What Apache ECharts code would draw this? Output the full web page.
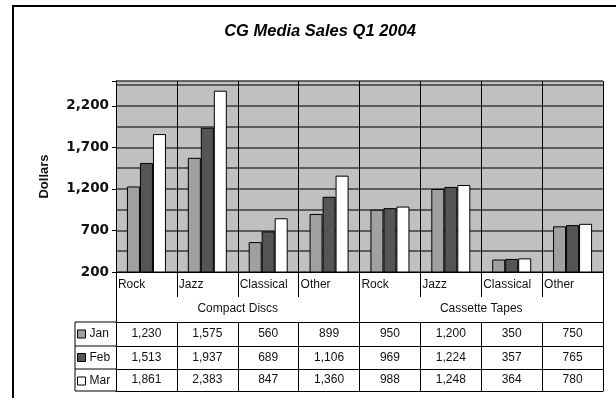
<!DOCTYPE html>
<html>
<head>
<meta charset="utf-8">
<script src="https://cdn.jsdelivr.net/npm/echarts@6/dist/echarts.min.js"></script>
<style>
html,body{margin:0;padding:0;background:#fff;}
#chart{width:616px;height:398px;}
</style>
</head>
<body>
<div id="chart"></div>
<script>
const titleText = 'CG Media Sales Q1 2004';
const categories = ['Rock', 'Jazz', 'Classical', 'Other', 'Rock', 'Jazz', 'Classical', 'Other'];
const groups = ['Compact Discs', 'Cassette Tapes'];
const seriesNames = ['Jan', 'Feb', 'Mar'];
const jan = [1230, 1575, 560, 899, 950, 1200, 350, 750];
const feb = [1513, 1937, 689, 1106, 969, 1224, 357, 765];
const mar = [1861, 2383, 847, 1360, 988, 1248, 364, 780];
const yMin = 200;
const yMax = 2500;
const yLabelStep = 500;
const yGridStep = 250;
const yName = 'Dollars';

const seriesValues = [jan, feb, mar];
const seriesColors = ['#a0a0a0', '#555555', '#ffffff'];
const fmt = v => Number(v).toLocaleString('en-US');
const FONT = 'Arial, "Liberation Sans", sans-serif';

const chart = echarts.init(document.getElementById('chart'), null, {renderer: 'canvas'});

function rowAxis(values, offset, margin, tickLen) {
  return {
    type: 'category', gridIndex: 0, position: 'bottom', offset: offset,
    data: values.map(fmt),
    axisLine: {show: true, lineStyle: {color: '#000', width: 1}},
    axisTick: {show: true, interval: 0, length: tickLen, lineStyle: {color: '#000', width: 1}},
    axisLabel: {show: true, interval: 0, margin: margin, fontFamily: FONT, fontSize: 12, lineHeight: 14, color: '#111'},
    splitLine: {show: false}
  };
}

const option = {
  animation: false,
  backgroundColor: '#ffffff',
  title: {
    text: titleText, left: 320, top: 23, textAlign: 'center', padding: 0,
    textStyle: {fontFamily: FONT, fontSize: 16.5, fontWeight: 'bold', fontStyle: 'italic', color: '#000'}
  },
  legend: {
    orient: 'vertical', left: 77, top: 327, itemWidth: 8, itemHeight: 8, itemGap: 9.5,
    icon: 'rect', padding: 0,
    itemStyle: {borderColor: '#000', borderWidth: 1},
    textStyle: {fontFamily: FONT, fontSize: 12, lineHeight: 14, color: '#111', padding: [0, 0, 0, -1]},
    data: seriesNames
  },
  grid: {left: 116, right: 13, top: 81, bottom: 126, show: true, backgroundColor: '#c0c0c0', borderWidth: 0},
  xAxis: [
    {
      type: 'category', data: categories, position: 'bottom',
      axisLine: {show: true, lineStyle: {color: '#000', width: 1}},
      axisTick: {show: true, interval: 0, length: 25, lineStyle: {color: '#000', width: 1}},
      axisLabel: {
        show: true, interval: 0, margin: 6,
        formatter: v => '{a|' + v + '}',
        rich: {a: {width: 57, align: 'left', fontFamily: FONT, fontSize: 12, lineHeight: 14, color: '#111'}}
      },
      splitLine: {show: true, interval: 0, lineStyle: {color: '#000', width: 1}}
    },
    {
      type: 'category', data: groups, position: 'bottom', offset: 0,
      axisLine: {show: false},
      axisTick: {show: true, interval: 0, length: 50, lineStyle: {color: '#000', width: 1}},
      axisLabel: {show: true, interval: 0, margin: 29.5, fontFamily: FONT, fontSize: 12, lineHeight: 14, color: '#111'},
      splitLine: {show: false}
    },
    rowAxis(jan, 50, 5, 24),
    rowAxis(feb, 74, 4.5, 23),
    rowAxis(mar, 97, 4, 22),
    {
      type: 'category', data: categories, position: 'bottom', offset: 119,
      axisLine: {show: true, lineStyle: {color: '#000', width: 1}},
      axisTick: {show: false}, axisLabel: {show: false}, splitLine: {show: false}
    }
  ],
  yAxis: [
    {
      type: 'value', position: 'left', min: yMin, max: yMax, interval: yGridStep,
      axisLine: {show: true, lineStyle: {color: '#000', width: 1}},
      axisTick: {show: false}, axisLabel: {show: false},
      splitLine: {show: true, lineStyle: {color: '#3a3a3a', width: 1.5}}
    },
    {
      type: 'value', position: 'left', min: yMin, max: yMax, interval: yLabelStep,
      name: yName, nameLocation: 'middle', nameGap: 65, nameRotate: 90,
      nameTextStyle: {fontFamily: FONT, fontSize: 13, fontWeight: 'bold', color: '#111'},
      axisLine: {show: false},
      axisTick: {show: true, length: 4, lineStyle: {color: '#000', width: 1}},
      axisLabel: {
        show: true, margin: 7, fontFamily: '"DejaVu Sans", sans-serif', fontSize: 13.5, fontWeight: 'bold', color: '#111',
        formatter: v => ((v - yMin) % yLabelStep === 0 ? fmt(v) : '')
      },
      splitLine: {show: false}
    }
  ],
  series: seriesNames.map((name, i) => ({
    name: name, type: 'bar', xAxisIndex: 0, yAxisIndex: 0,
    data: seriesValues[i], barWidth: 13, barGap: '0%',
    itemStyle: {color: seriesColors[i], borderColor: '#000', borderWidth: 1},
    emphasis: {disabled: true}
  })),
  graphic: [
    {type: 'rect', shape: {x: 13, y: 6, width: 700, height: 500}, style: {fill: 'none', stroke: '#000', lineWidth: 2}, silent: true},
    {type: 'line', shape: {x1: 75, y1: 322, x2: 116, y2: 322}, style: {stroke: '#000', lineWidth: 1}},
    {type: 'line', shape: {x1: 75, y1: 346, x2: 116, y2: 346}, style: {stroke: '#000', lineWidth: 1}},
    {type: 'line', shape: {x1: 75, y1: 369, x2: 116, y2: 369}, style: {stroke: '#000', lineWidth: 1}},
    {type: 'line', shape: {x1: 75, y1: 391, x2: 116, y2: 391}, style: {stroke: '#000', lineWidth: 1}},
    {type: 'line', shape: {x1: 75, y1: 322, x2: 75, y2: 391}, style: {stroke: '#000', lineWidth: 1}}
  ]
};
chart.setOption(option);
</script>
</body>
</html>
